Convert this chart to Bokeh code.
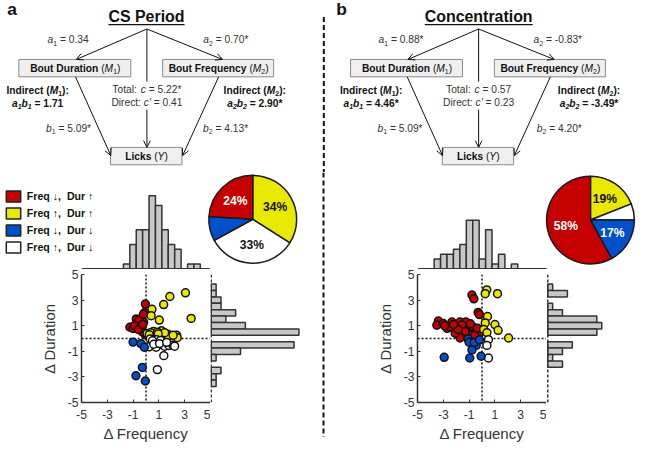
import math
from bokeh.plotting import figure
from bokeh.layouts import row, column
from bokeh.models import (Range1d, ColumnDataSource, Span, Arrow, OpenHead,
                          Legend, LegendItem, Label, FixedTicker)
from bokeh.embed import file_html
from bokeh.resources import INLINE
from bokeh.core.properties import value, field

# ---------------- data ----------------
panel_titles = ["CS Period", "Concentration"]
top_letters = ["a", "b"]
bottom_letters = ["c", "d"]
mediator_names = ["Bout Duration", "Bout Frequency"]
outcome_name = "Licks"
a1_vals = ["0.34", "0.88*"]
a2_vals = ["0.70*", "-0.83*"]
b1_vals = ["5.09*", "5.09*"]
b2_vals = ["4.13*", "4.20*"]
total_vals = ["5.22*", "0.57"]
direct_vals = ["0.41", "0.23"]
ind1_vals = ["1.71", "4.46*"]
ind2_vals = ["2.90*", "-3.49*"]

categories = ["Freq \u2193,  Dur \u2191", "Freq \u2191,  Dur \u2191",
              "Freq \u2193,  Dur \u2193", "Freq \u2191,  Dur \u2193"]
cat_colors = ["#C40000", "#E8E800", "#0050CC", "#FFFFFF"]
pct_c = [24, 34, 9, 33]
pct_d = [58, 19, 17, 6]
pie_order = [1, 3, 2, 0]   # clockwise from 12 o'clock

tick_vals = [-5, -3, -1, 1, 3, 5]
tick_labels = ["-5", "-3", "-1", "1", "3", "5"]
BIN_W = 0.5

# panel c scatter (per category: red, yellow, blue, white)
c_x = [
    [-0.05, -0.10, -0.75, -0.38, -0.18, -0.48, -1.25, -1.00, -0.30, -0.05, -0.55, -0.20, -0.90, -0.15, -0.60, -0.25],
    [3.06, 1.85, 1.37, 0.46, 0.40, 1.03, 3.50, 0.58, 1.20, 0.08, 1.70, 1.75, 2.38, 2.42, 0.35, 0.90, 1.45, 2.10, 0.95, 0.25],
    [-1.00, -0.40, -0.13, -0.28, -0.78, -0.05],
    [0.33, 0.83, 1.13, 0.50, 0.25, 0.78, 1.25, 1.45, 1.78, 2.08, 2.22, 1.38, 0.88, 0.60, 1.05, 1.60],
]
c_y = [
    [2.69, 2.03, 1.53, 1.53, 1.28, 0.98, 0.88, 0.78, 0.53, 0.28, 1.45, 1.90, 1.00, 0.45, 0.70, 1.10],
    [3.57, 3.28, 2.65, 2.28, 1.78, 1.44, 1.57, 0.56, 0.60, 0.40, 0.33, 0.20, 0.25, 0.06, 0.45, 0.50, 0.45, 0.25, 0.35, 0.30],
    [-0.28, -0.40, -0.68, -2.26, -2.91, -3.32],
    [-0.03, -0.10, -0.15, -0.18, -0.65, -0.68, -0.48, -0.60, -0.55, -0.53, -0.60, -1.34, -2.43, -0.45, -0.40, -0.30],
]
# panel d scatter
d_x = [
    [-0.78, -0.63, -0.30, -0.20, -3.38, -3.50, -3.00, -2.33, -1.95, -1.70, -1.25, -2.70, -2.08, -1.45, -1.07,
     -0.70, -0.45, -1.70, -1.00, -0.25, -2.08, -2.45, -0.90, -1.55, -2.90, -0.55, -1.30, -1.85, -0.35, -2.20],
    [0.37, 0.25, 1.20, 0.43, 0.25, 1.00, 1.25, 0.13, 0.38, 2.06],
    [-1.08, -1.00, -0.45, -0.78, -2.93, -0.95, -0.07, -0.60, -0.20],
    [0.50, 0.38, 0.50],
]
d_y = [
    [3.40, 3.10, 2.04, 1.87, 1.37, 1.04, 1.17, 1.29, 1.04, 1.29, 1.29, 0.79, 0.66, 0.79, 0.84,
     0.91, 0.54, 0.04, 0.29, 0.34, 0.41, 0.91, 1.15, 1.05, 1.00, 0.25, 0.55, 0.70, 0.80, 1.10],
    [3.80, 3.50, 3.50, 1.72, 1.22, 1.09, 0.64, 0.71, 0.46, 0.04],
    [-0.04, -0.29, -0.54, -0.89, -1.47, -1.52, -1.39, -0.30, -0.10],
    [-0.09, -0.54, -1.52],
]

# marginal histograms (left / bottom bin edges, counts)
c_freq_left = [-1.75, -1.25, -0.75, -0.25, 0.25, 0.75, 1.25, 1.75, 2.25, 2.75, 3.25, 3.75]
c_freq_count = [1, 5, 8, 8, 15, 13, 8, 5, 4, 0, 1, 1]
c_dur_bottom = [3.75, 3.25, 2.75, 2.25, 1.75, 1.25, 0.75, 0.25, -0.25, -0.75, -1.25, -1.75, -2.25, -2.75, -3.25, -3.75]
c_dur_count = [1, 1, 2, 2, 5, 3, 7, 18, 0, 17, 6, 1, 0, 2, 1, 1]
d_freq_left = [-3.75, -3.25, -2.75, -2.25, -1.75, -1.25, -0.75, -0.25, 0.25, 0.75, 1.25, 1.75, 2.25]
d_freq_count = [2, 3, 3, 4, 5, 10, 10, 2, 8, 1, 3, 0, 1]
d_dur_bottom = [3.75, 3.25, 2.75, 2.25, 1.75, 1.25, 0.75, 0.25, -0.25, -0.75, -1.25, -1.75, -2.25]
d_dur_count = [1, 4, 0, 1, 3, 10, 11, 10, 0, 5, 3, 1, 3]

# ---------------- layout helpers ----------------
S = 0.965
FONT = "Liberation Sans"
FONT_ARROWS = "Liberation Sans, DejaVu Sans"
INK = "#111111"
GREY = "#333333"
MID = 0.35           # distance from baseline to visual middle, in em


def sc(v):
    return v * S


def span_px(a, b):
    return int(round(b * S)) - int(round(a * S))


_REG = {' ': 278, "'": 191, '(': 333, ')': 333, '*': 389, ',': 278, '-': 333, '.': 278, ':': 278, '=': 584}
_BLD = {' ': 278, "'": 238, '(': 333, ')': 333, '*': 389, ',': 278, '-': 333, '.': 278, ':': 333, '=': 584}
for _d in "0123456789":
    _REG[_d] = 556
    _BLD[_d] = 556
_REG.update(dict(A=667, B=667, C=722, D=722, E=667, F=611, G=778, H=722, I=278, J=500, K=667, L=556, M=833,
                 N=722, O=778, P=667, Q=778, R=722, S=667, T=611, U=722, V=667, W=944, X=667, Y=667, Z=611,
                 a=556, b=556, c=500, d=556, e=556, f=278, g=556, h=556, i=222, j=222, k=500, l=222, m=833,
                 n=556, o=556, p=556, q=556, r=333, s=500, t=278, u=556, v=500, w=722, x=500, y=500, z=500))
_BLD.update(dict(A=722, B=722, C=722, D=722, E=667, F=611, G=778, H=722, I=278, J=556, K=722, L=611, M=833,
                 N=722, O=778, P=667, Q=778, R=722, S=667, T=611, U=722, V=667, W=944, X=667, Y=667, Z=611,
                 a=556, b=611, c=556, d=611, e=556, f=333, g=611, h=611, i=278, j=278, k=556, l=278, m=889,
                 n=611, o=611, p=611, q=611, r=389, s=556, t=333, u=611, v=556, w=778, x=556, y=556, z=500))


def twidth(s, bold, fs):
    tb = _BLD if bold else _REG
    return sum(tb.get(ch, 556) for ch in s) * fs / 1000.0


TXT = dict(x=[], y=[], text=[], style=[], size=[], color=[])


def put(x, base, t, st, f, color):
    TXT["x"].append(x)
    TXT["y"].append(base - MID * f)
    TXT["text"].append(t)
    TXT["style"].append(st)
    TXT["size"].append("%.2fpx" % sc(f))
    TXT["color"].append(color)


def rich(cx, base, parts, fs, color=INK):
    """parts: (text, bold, italic, subscript) ; centred at cx, baseline base."""
    ws = []
    for t, b, i, sub in parts:
        ws.append(twidth(t, b, fs * 0.68 if sub else fs))
    x = cx - sum(ws) / 2.0
    for (t, b, i, sub), w in zip(parts, ws):
        f = fs * 0.68 if sub else fs
        st = ("bold " if b else "") + ("italic" if i else "")
        st = st.strip() or "normal"
        t2 = t.lstrip(" ")
        lead = twidth(t[:len(t) - len(t2)], b, f)
        put(x + lead, base + (0.2 * fs if sub else 0.0), t2, st, f, color)
        x += w
    return sum(ws)


def base_fig(w, h, xr, yr, **kw):
    p = figure(width=w, height=h, x_range=xr, y_range=yr, toolbar_location=None,
               output_backend="svg", title=None, min_border=0, outline_line_color=None,
               background_fill_color="white", border_fill_color="white", **kw)
    p.grid.visible = False
    return p


# ---------------- top diagrams ----------------
TOP_H = 178
dg = base_fig(span_px(0, 660), span_px(0, TOP_H), Range1d(0, 660), Range1d(TOP_H, 0),
              x_axis_type=None, y_axis_type=None)

FS = 10.6
DX = [0.0, 343.7]
title_cx = [151.3, 495.5]
mid_cx = [151.7, 495.4]
a1_cx = [70.0, 415.0]
a2_cx = [233.5, 577.5]
b1_cx = [70.5, 414.0]
b2_cx = [233.3, 579.0]
ind1_cx = [38.5, 384.0]
ind2_cx = [263.5, 609.8]
letter_x = [7.0, 348.0]

for k in range(2):
    dx = DX[k]
    put(letter_x[k], 15.5, top_letters[k], "bold", 18, INK)
    tw = rich(title_cx[k], 22.5, [(panel_titles[k], True, False, False)], 16.5)
    dg.segment(x0=title_cx[k] - tw / 2, y0=25.0, x1=title_cx[k] + tw / 2, y1=25.0,
               line_color=INK, line_width=1.4)
    apex = (151.7 + dx, 29.5)
    bl = [19 + dx, 168 + dx, 114 + dx]
    br = [135 + dx, 283 + dx, 188 + dx]
    bt = [61, 61, 152]
    bb = [79, 79, 170]
    dg.quad(left=bl, right=br, top=bt, bottom=bb, fill_color="#EFEFEF",
            line_color="#8A8A8A", line_width=1)
    for j in range(2):
        rich((bl[j] + br[j]) / 2 + 0.5, 74.3,
             [(mediator_names[j] + " ", True, False, False), ("(", False, False, False),
              ("M", False, True, False), (str(j + 1), False, False, True), (")", False, False, False)], FS)
    rich(151.3 + dx, 165.6, [(outcome_name + " ", True, False, False), ("(", False, False, False),
                             ("Y", False, True, False), (")", False, False, False)], FS)
    heads = dict(size=sc(7), line_width=1, line_color=INK)
    for (xs, ys, xe, ye) in [(apex[0], apex[1], 78.5 + dx, 61), (apex[0], apex[1], 230 + dx, 61),
                             (77.7 + dx, 79, 114.3 + dx, 160.5), (226 + dx, 79, 188.7 + dx, 160.5),
                             (apex[0], 113, apex[0], 152)]:
        dg.add_layout(Arrow(end=OpenHead(**heads), x_start=xs, y_start=ys, x_end=xe, y_end=ye,
                            line_color=INK, line_width=1))
    dg.segment(x0=apex[0], y0=apex[1], x1=apex[0], y1=84, line_color=INK, line_width=1)
    rich(a1_cx[k], 44.5, [("a", False, True, False), ("1", False, False, True),
                          (" = " + a1_vals[k], False, False, False)], FS, GREY)
    rich(a2_cx[k], 44.5, [("a", False, True, False), ("2", False, False, True),
                          (" = " + a2_vals[k], False, False, False)], FS, GREY)
    rich(b1_cx[k], 136.0, [("b", False, True, False), ("1", False, False, True),
                           (" = " + b1_vals[k], False, False, False)], FS, GREY)
    rich(b2_cx[k], 136.0, [("b", False, True, False), ("2", False, False, True),
                           (" = " + b2_vals[k], False, False, False)], FS, GREY)
    rich(mid_cx[k], 95.7, [("Total: ", False, False, False), ("c", False, True, False),
                           (" = " + total_vals[k], False, False, False)], FS, GREY)
    rich(mid_cx[k], 109.5, [("Direct: ", False, False, False), ("c'", False, True, False),
                            (" = " + direct_vals[k], False, False, False)], FS, GREY)
    for j, (cx, val) in enumerate([(ind1_cx[k], ind1_vals[k]), (ind2_cx[k], ind2_vals[k])]):
        n = str(j + 1)
        rich(cx, 96.5, [("Indirect (", True, False, False), ("M", True, True, False),
                        (n, True, False, True), ("):", True, False, False)], FS)
        rich(cx, 110.0, [("a", True, True, False), (n, True, True, True), ("b", True, True, False),
                         (n, True, True, True), (" = " + val, True, False, False)], FS)

dg.segment(x0=335, y0=17, x1=335, y1=TOP_H, line_color=INK, line_width=2, line_dash="5 3")
dg.text(x="x", y="y", text="text", source=ColumnDataSource(TXT), text_font=value(FONT),
        text_font_style=field("style"), text_font_size=field("size"), text_color=field("color"),
        text_baseline="middle", text_align="left")

# ---------------- bottom panels ----------------
HIST_Y1 = 279.0
BASE_Y = 278.3
SC_TOP = 284.0
SC_BOT = 416.7
FIG_BOT = 463.0
CPU = 5.07

geoms = [
    dict(fx0=0.0, ax0=84.3, split=217.5, base=218.3, fx1=332.0, pcx=261.7, pcy=226.7, letter_x=6.0, xpu=13.3),
    dict(fx0=338.0, ax0=432.8, split=566.0, base=567.3, fx1=660.0, pcx=611.3, pcy=227.5, letter_x=349.0, xpu=13.32),
]
scat_x = [c_x, d_x]
scat_y = [c_y, d_y]
pcts = [pct_c, pct_d]
f_left = [c_freq_left, d_freq_left]
f_cnt = [c_freq_count, d_freq_count]
d_bot = [c_dur_bottom, d_dur_bottom]
d_cnt = [c_dur_count, d_dur_count]
label_dark = ["#FFFFFF", "#111111", "#FFFFFF", "#111111"]
NAN = float("nan")

cols = []
for k in range(2):
    g = geoms[k]
    xpu = g["xpu"]
    top = base_fig(span_px(g["fx0"], g["fx1"]), span_px(TOP_H, HIST_Y1),
                   Range1d(-5 - (g["ax0"] - g["fx0"]) / xpu, -5 + (g["fx1"] - g["ax0"]) / xpu),
                   Range1d(-(HIST_Y1 - BASE_Y) / CPU, (BASE_Y - TOP_H) / CPU),
                   x_axis_type=None, y_axis_type=None)
    fl = [l for l, c in zip(f_left[k], f_cnt[k]) if c > 0]
    fc = [c for c in f_cnt[k] if c > 0]
    top.quad(left=fl, right=[l + BIN_W for l in fl], bottom=0, top=fc,
             fill_color="#C8C8C8", line_color=GREY, line_width=1.5)
    top.segment(x0=-5, y0=0, x1=5, y1=0, line_color=GREY, line_width=1.5)
    pcx = -5 + (g["pcx"] - g["ax0"]) / xpu
    pcy = (BASE_Y - g["pcy"]) / CPU
    R = 45.5
    cum = 0.0
    tot = float(sum(pcts[k]))
    lx, ly, lt, lxo, lyo, lc = [], [], [], [], [], []
    for idx in pie_order:
        frac = pcts[k][idx] / tot
        a0 = math.pi / 2 - 2 * math.pi * cum
        a1 = math.pi / 2 - 2 * math.pi * (cum + frac)
        top.wedge(x=pcx, y=pcy, radius=sc(R), radius_units="screen", start_angle=a0, end_angle=a1,
                  direction="clock", fill_color=cat_colors[idx], line_color="#1A1A1A", line_width=1.5)
        if pcts[k][idx] >= 10:
            mid = (a0 + a1) / 2
            rr = 0.58 * R
            lx.append(pcx); ly.append(pcy); lt.append("%d%%" % pcts[k][idx])
            lxo.append(sc(rr * math.cos(mid))); lyo.append(-sc(rr * math.sin(mid)))
            lc.append(label_dark[idx])
        cum += frac
    top.text(x="x", y="y", text="t", x_offset="xo", y_offset="yo", text_color="c",
             source=ColumnDataSource(dict(x=lx, y=ly, t=lt, xo=lxo, yo=lyo, c=lc)),
             text_font=value(FONT), text_font_style="bold", text_font_size="%.1fpx" % sc(12.5),
             text_align="center", text_baseline="middle")
    if k == 0:
        items = []
        for i, cat in enumerate(categories):
            r = top.quad(left=[NAN], right=[NAN], top=[NAN], bottom=[NAN], fill_color=cat_colors[i],
                         line_color="#222222", line_width=1.5)
            items.append(LegendItem(label=cat, renderers=[r]))
        leg = Legend(items=items, location=(sc(4), sc(HIST_Y1 - 263.0)), padding=0, margin=0,
                     spacing=int(round(sc(3.3))), glyph_width=int(round(sc(19))),
                     glyph_height=int(round(sc(15))), label_height=int(round(sc(15))),
                     label_standoff=int(round(sc(5))), border_line_color=None, background_fill_alpha=0,
                     label_text_font=FONT_ARROWS, label_text_font_style="bold",
                     label_text_font_size="%.1fpx" % sc(11), label_text_color=INK)
        top.add_layout(leg)

    bt_ = int(round(sc(SC_TOP - HIST_Y1)))
    bb_ = int(round(sc(FIG_BOT - SC_BOT)))
    H = span_px(HIST_Y1, FIG_BOT)
    sp = base_fig(span_px(g["fx0"], g["split"]), H, Range1d(-5, 5), Range1d(-5, 5))
    sp.min_border_left = int(round(sc(g["ax0"] - g["fx0"])))
    sp.min_border_top = bt_
    sp.min_border_bottom = bb_
    sp.min_border_right = 0
    for ax in (sp.xaxis[0], sp.yaxis[0]):
        ax.ticker = FixedTicker(ticks=tick_vals)
        ax.major_label_overrides = {v: s for v, s in zip(tick_vals, tick_labels)}
        ax.axis_line_color = GREY
        ax.axis_line_width = 1.5
        ax.major_tick_in = 3
        ax.major_tick_out = 0
        ax.major_tick_line_color = GREY
        ax.minor_tick_line_color = None
        ax.major_label_text_font = FONT
        ax.major_label_text_font_size = "%.1fpx" % sc(12.5)
        ax.major_label_text_color = GREY
        ax.axis_label_text_font = FONT
        ax.axis_label_text_font_size = "%.1fpx" % sc(15.5)
        ax.axis_label_text_font_style = "normal"
        ax.axis_label_text_color = GREY
    sp.xaxis[0].axis_label = "\u0394 Frequency"
    sp.yaxis[0].axis_label = "\u0394 Duration"
    sp.xaxis[0].major_label_standoff = 7
    sp.xaxis[0].axis_label_standoff = 3
    sp.yaxis[0].major_label_standoff = 3
    sp.yaxis[0].axis_label_standoff = 7
    sp.add_layout(Span(location=0, dimension="height", line_color=INK, line_width=1.5,
                       line_dash="2 2", level="underlay"))
    sp.add_layout(Span(location=0, dimension="width", line_color=INK, line_width=1.5,
                       line_dash="2 2", level="underlay"))
    for i in [0, 1, 3, 2]:
        sp.scatter(x=scat_x[k][i], y=scat_y[k][i], size=sc(8.2), marker="circle",
                   fill_color=cat_colors[i], line_color=INK, line_width=1.5)
    sp.add_layout(Label(x=-5 + (g["letter_x"] - g["ax0"]) / xpu, y=-5 - (449.0 - SC_BOT) / xpu,
                        text=bottom_letters[k], text_font=FONT, text_font_style="bold",
                        text_font_size="%.1fpx" % sc(17), text_color=INK, text_baseline="middle"))

    rh = base_fig(span_px(g["split"], g["fx1"]), H,
                  Range1d(-(g["base"] - g["split"]) / CPU, (g["fx1"] - g["base"]) / CPU),
                  Range1d(-5, 5), x_axis_type=None, y_axis_type=None)
    rh.min_border_top = bt_
    rh.min_border_bottom = bb_
    db = [b for b, c in zip(d_bot[k], d_cnt[k]) if c > 0]
    dc = [c for c in d_cnt[k] if c > 0]
    rh.quad(left=0, right=dc, bottom=db, top=[b + BIN_W for b in db],
            fill_color="#C8C8C8", line_color=GREY, line_width=1.5)
    rh.add_layout(Span(location=0, dimension="height", line_color=GREY, line_width=1.5,
                       line_dash="3 2"))
    cols.append(column(top, row(sp, rh, spacing=0), spacing=0))

dv = base_fig(span_px(332, 338), span_px(TOP_H, FIG_BOT), Range1d(332, 338), Range1d(FIG_BOT, TOP_H),
              x_axis_type=None, y_axis_type=None)
dv.segment(x0=335, y0=TOP_H, x1=335, y1=452, line_color=INK, line_width=2, line_dash="5 3")

layout = column(dg, row(cols[0], dv, cols[1], spacing=0), spacing=0)

with open("out.html", "w") as fh:
    fh.write(file_html(layout, INLINE))
